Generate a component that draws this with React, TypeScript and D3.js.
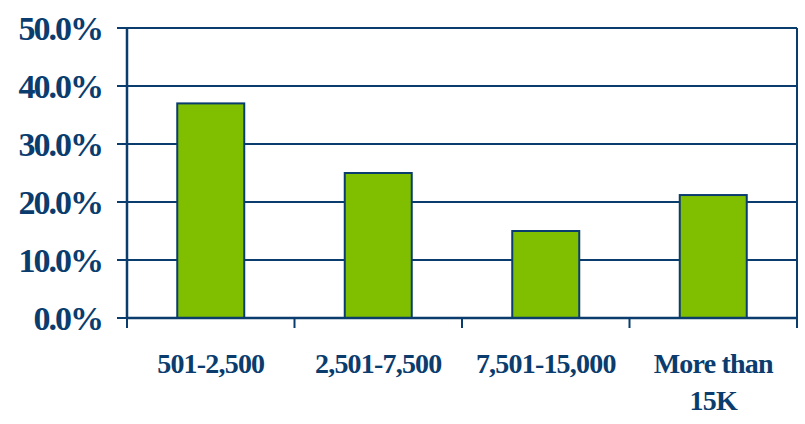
import React from "react";
import * as d3 from "d3";

const categories: string[][] = [["501-2,500"], ["2,501-7,500"], ["7,501-15,000"], ["More than", "15K"]];
const values: number[] = [37, 25, 15, 21.2];
const yTicks: number[] = [0, 10, 20, 30, 40, 50];

const W = 805;
const H = 424;
const left = 127;
const right = 797;
const top = 28;
const bottom = 318;
const navy = "#0B3C6E";
const green = "#80BF00";

export default function App() {
  const x = d3.scaleBand<number>().domain(categories.map((_, i) => i)).range([left, right]).paddingInner(0).paddingOuter(0);
  const y = d3.scaleLinear().domain([0, 50]).range([bottom, top]);
  const bw = x.bandwidth();
  const barW = bw * 0.4;
  const fontFamily = "'Liberation Serif', 'Times New Roman', serif";
  const boundaries = d3.range(categories.length + 1).map((i) => left + i * bw);
  return (
    <svg width={W} height={H} style={{ position: "absolute", left: 0, top: 0 }}>
      <rect x={0} y={0} width={W} height={H} fill="#fff" />
      {yTicks.map((t) => (
        <g key={t}>
          <line x1={left - 10} x2={right} y1={y(t)} y2={y(t)} stroke={navy} strokeWidth={2} />
          <text x={102} y={y(t) + 12} textAnchor="end" fill={navy} fontFamily={fontFamily} fontWeight="bold" fontSize={34} style={{ letterSpacing: "-2px" }}>
            {t.toFixed(1)}%
          </text>
        </g>
      ))}
      {values.map((v, i) => (
        <rect key={i} x={(x(i) as number) + (bw - barW) / 2} y={y(v)} width={barW} height={bottom - y(v)} fill={green} stroke={navy} strokeWidth={2} />
      ))}
      <line x1={left} x2={left} y1={top} y2={bottom} stroke={navy} strokeWidth={2.5} />
      <line x1={right} x2={right} y1={top} y2={bottom} stroke={navy} strokeWidth={2} />
      <line x1={left} x2={right} y1={bottom} y2={bottom} stroke={navy} strokeWidth={2.5} />
      {boundaries.map((b, i) => (
        <line key={i} x1={b} x2={b} y1={bottom} y2={bottom + 10} stroke={navy} strokeWidth={2} />
      ))}
      {categories.map((lines, i) => (
        <text key={i} textAnchor="middle" fill={navy} fontFamily={fontFamily} fontWeight="bold" fontSize={28} style={{ letterSpacing: "-0.8px" }}>
          {lines.map((l, j) => (
            <tspan key={j} x={(x(i) as number) + bw / 2} y={373 + j * 37}>
              {l}
            </tspan>
          ))}
        </text>
      ))}
    </svg>
  );
}
